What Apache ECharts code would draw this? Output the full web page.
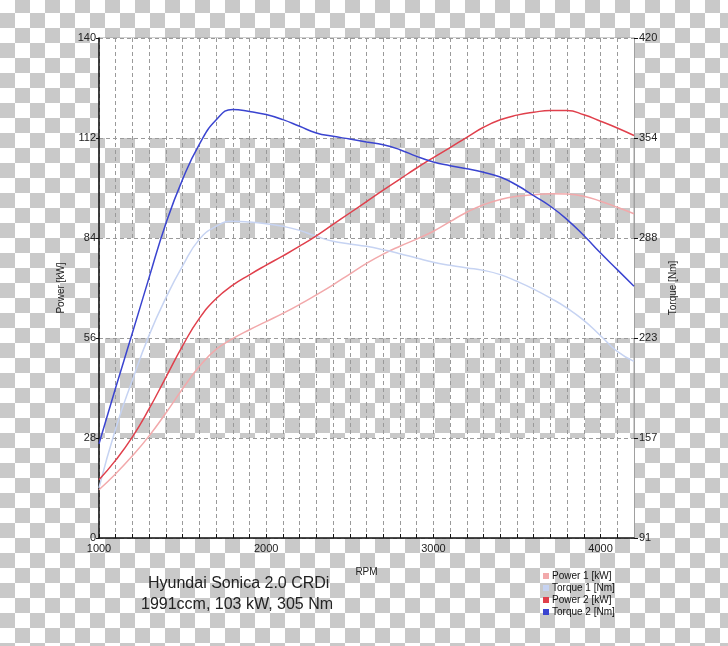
<!DOCTYPE html>
<html>
<head>
<meta charset="utf-8">
<script src="https://cdn.jsdelivr.net/npm/echarts@6/dist/echarts.min.js"></script>
<style>
html,body{margin:0;padding:0;}
body{width:728px;height:646px;overflow:hidden;
background-color:#fff;
background-image:repeating-conic-gradient(#fff 0 25%, #c9c9c9 0 50%);
background-size:30px 30px;background-position:0px 13px;}
#c{width:728px;height:646px;}
</style>
</head>
<body>
<div id="c"></div>
<script>
const rpm = [1000,1100,1200,1300,1400,1500,1600,1700,1800,1900,2000,2100,2200,2300,2400,2500,2600,2700,2800,2900,3000,3100,3200,3300,3400,3500,3600,3700,3800,3900,4000,4100,4200];
const power1 = [13.5,18.0,23.0,28.6,35.0,41.8,48.0,52.8,55.8,58.3,60.6,62.9,65.4,68.1,70.9,73.9,76.9,79.5,81.7,83.7,85.9,88.6,91.2,93.3,94.8,95.7,96.1,96.4,96.3,95.7,94.3,92.6,90.8];
const torque1 = [124.0,163.0,195.0,224.5,249.0,270.0,287.5,296.0,299.4,298.9,297.8,296.1,293.4,289.5,286.2,284.5,282.9,280.7,278.1,275.2,272.4,270.4,268.7,267.1,264.3,259.9,254.8,248.9,242.3,234.2,224.1,213.8,207.2];
const power2 = [16.3,21.8,28.3,36.2,45.0,53.8,61.5,67.0,70.8,73.7,76.4,79.0,81.7,84.6,87.8,91.0,94.2,97.4,100.5,103.6,106.5,109.3,112.2,115.0,117.1,118.4,119.2,119.7,119.7,118.5,116.7,114.8,112.7];
const torque2 = [153.0,190.0,226.0,262.5,298.0,327.0,350.0,366.0,373.0,371.7,369.6,366.3,361.9,357.5,355.3,353.5,351.6,349.8,346.5,342.1,338.4,336.0,334.0,331.6,328.5,323.1,316.3,309.3,300.5,290.0,278.5,267.6,256.6];
const seriesNames = ['Power 1 [kW]','Torque 1 [Nm]','Power 2 [kW]','Torque 2 [Nm]'];
const colors = ['#f2a9ab','#c6d3f2','#e0404c','#3a44d0'];
const titleLines = ['Hyundai Sonica 2.0 CRDi','1991ccm, 103 kW, 305 Nm'];

const pairs = arr => rpm.map((r,i)=>[r,arr[i]]);
const font = 'Liberation Sans, Arial, sans-serif';
const chart = echarts.init(document.getElementById('c'), null, {renderer:'canvas'});
const dash = {color:'#9a9a9a', type:[4,3], width:1};
const mkSeries = (i, axis, arr) => ({
  name:seriesNames[i], type:'line', yAxisIndex:axis, data:pairs(arr), smooth:0.5,
  showSymbol:false, symbol:'rect',
  lineStyle:{width:1.5,color:colors[i]}, itemStyle:{color:colors[i]}
});
chart.setOption({
  backgroundColor:'transparent',
  animation:false,
  textStyle:{fontFamily:font},
  grid:{left:99,right:94,top:38,bottom:108,show:true,borderColor:'#a0a0a0',borderWidth:1,backgroundColor:'transparent'},
  legend:{
    orient:'vertical', left:538, top:566, itemWidth:6, itemHeight:6, itemGap:2,
    icon:'rect', data:seriesNames,
    textStyle:{fontSize:10,color:'#111',fontFamily:font, padding:[0,0,0,-2]}
  },
  graphic:[
    {type:'text', left:148, top:576, style:{text:titleLines[0], font:'16px '+font, fill:'#222'}},
    {type:'text', left:141, top:597, style:{text:titleLines[1], font:'16px '+font, fill:'#222'}}
  ],
  xAxis:{
    type:'value', min:1000, max:4200, interval:100,
    name:'RPM', nameLocation:'middle', nameGap:29,
    nameTextStyle:{fontSize:10,color:'#222'},
    axisLine:{show:true,lineStyle:{color:'#111',width:1.5}},
    axisTick:{show:true,inside:true,length:4,lineStyle:{color:'#111'}},
    axisLabel:{fontSize:11,color:'#222',margin:5,showMaxLabel:false,
      formatter:v=> (v%1000===0 ? String(v) : '')},
    splitLine:{show:true,lineStyle:dash}
  },
  yAxis:[
    {type:'value', min:0, max:140, interval:28, position:'left',
     name:'Power [kW]', nameLocation:'middle', nameGap:33, nameRotate:90,
     nameTextStyle:{fontSize:10,color:'#222'},
     axisLine:{show:true,lineStyle:{color:'#111',width:1.5}},
     axisTick:{show:true,length:3,lineStyle:{color:'#111'}},
     axisLabel:{fontSize:11,color:'#222',margin:3},
     splitLine:{show:true,lineStyle:dash},
     splitArea:{show:true,areaStyle:{color:['#ffffff','rgba(255,255,255,0)']}}
    },
    {type:'value', min:91, max:420, interval:65.8, position:'right',
     name:'Torque [Nm]', nameLocation:'middle', nameGap:33, nameRotate:90,
     nameTextStyle:{fontSize:10,color:'#222'},
     axisLine:{show:true,lineStyle:{color:'#a0a0a0',width:1}},
     axisTick:{show:true,length:4,lineStyle:{color:'#111'}},
     axisLabel:{fontSize:11,color:'#222',margin:5,formatter:v=>String(Math.round(v))},
     splitLine:{show:false}
    }
  ],
  series:[
    mkSeries(0,0,power1),
    mkSeries(1,1,torque1),
    mkSeries(2,0,power2),
    mkSeries(3,1,torque2)
  ]
});
</script>
</body>
</html>
